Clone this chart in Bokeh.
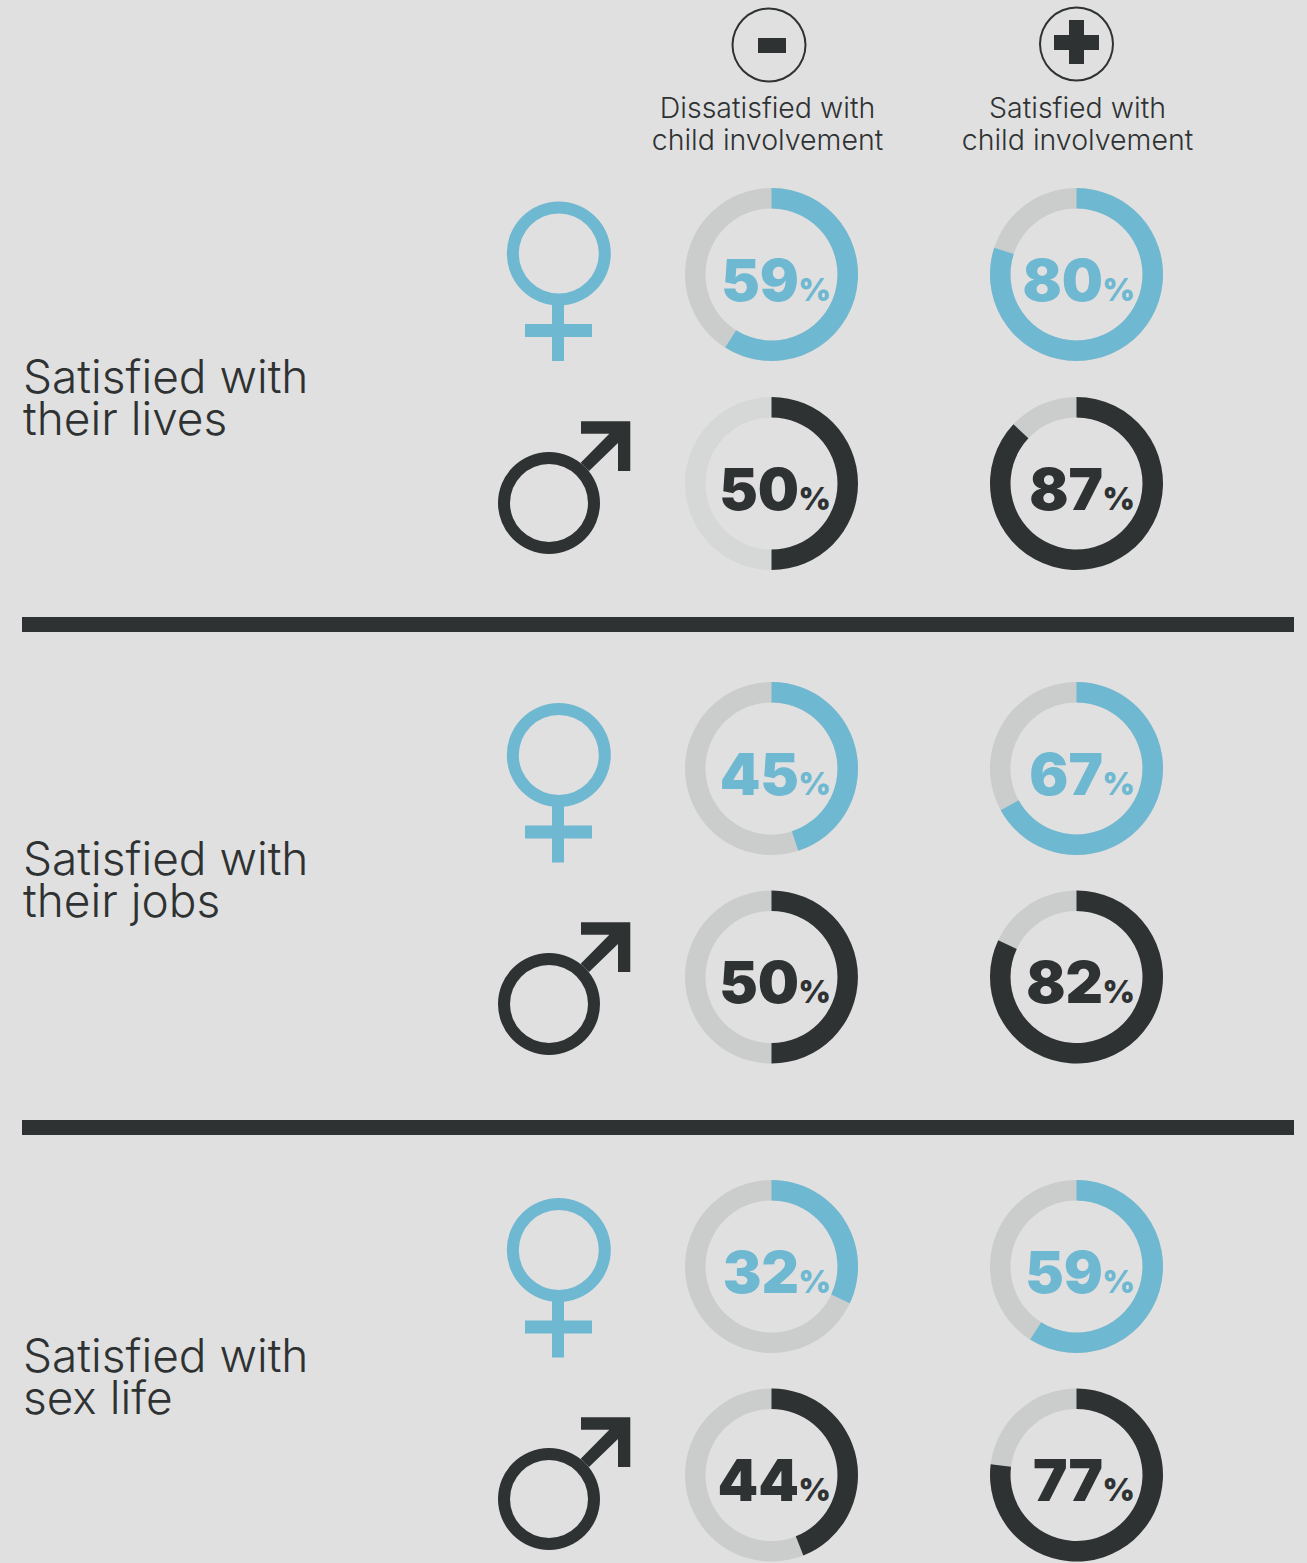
from math import pi
from bokeh.plotting import figure
from bokeh.models import Range1d
from bokeh.embed import file_html
from bokeh.resources import INLINE
from bokeh.core.properties import value

# ---- data ----
header_lines = [["Dissatisfied with", "child involvement"], ["Satisfied with", "child involvement"]]
row_labels = [["Satisfied with", "their lives"], ["Satisfied with", "their jobs"], ["Satisfied with", "sex life"]]
female_dissatisfied = [59, 45, 32]
male_dissatisfied = [50, 50, 44]
female_satisfied = [80, 67, 59]
male_satisfied = [87, 82, 77]

# ---- style / layout ----
BG, BLUE, DARK, TRACK, TRACK_LIGHT = "#e0e0e0", "#6fb8d2", "#2f3233", "#cbcdcc", "#d6d7d7"
LIGHT, BOLD = "Inter Light", "Inter Black"
BASE = 0.37  # the text glyph sits this many em below its anchor
col_x = [771.5, 1076.5]
digit_dx = [27.5, 26.5]
pct_dx = [27, 26]
donut_y = [(274.5, 483.5), (768.5, 977), (1266.5, 1475)]
venus_y = [253.5, 755, 1250]
mars_y = [503, 1004, 1499]
label_y = [(393.5, 435.5), (875.5, 917.5), (1372.5, 1414.5)]
rule_y = [(617, 632), (1120, 1135)]

p = figure(width=1307, height=1563, x_range=Range1d(0.5, 1307.5), y_range=Range1d(1563.5, 0.5),
           output_backend="svg", toolbar_location=None, min_border=0, outline_line_color=None,
           background_fill_color=BG, border_fill_color=BG)
p.axis.visible = False
p.grid.visible = False


def rect(x0, x1, y0, y1, color):
    p.quad(left=[x0], right=[x1], top=[y0], bottom=[y1], fill_color=color, line_color=None)


def label(x, y, txt, size, color, font, align="left", style="normal"):
    p.text(x=[x], y=[y - BASE * size], text=[txt], text_font=value(font), text_font_size=f"{size}px",
           text_font_style=style, text_color=color, text_align=align, text_baseline="alphabetic")


def donut(c, cy, v, color, track=TRACK):
    cx = col_x[c]
    end = pi / 2 - 2 * pi * v / 100
    p.annular_wedge(x=[cx], y=[cy], inner_radius=66, outer_radius=86.5,
                    inner_radius_units="screen", outer_radius_units="screen",
                    start_angle=0, end_angle=2 * pi - 1e-4, fill_color=track, line_color=None)
    p.annular_wedge(x=[cx], y=[cy], inner_radius=66, outer_radius=86.5,
                    inner_radius_units="screen", outer_radius_units="screen",
                    start_angle=pi / 2, end_angle=end, direction="clock",
                    fill_color=color, line_color=None)
    label(cx + digit_dx[c], cy + 26.5, str(v), 58, color, BOLD, "right")
    label(cx + pct_dx[c], cy + 26, "%", 31, color, BOLD, "left")


def ring(cx, cy, r_out, r_in, color):
    p.annulus(x=[cx], y=[cy], inner_radius=r_in, outer_radius=r_out,
              inner_radius_units="screen", outer_radius_units="screen",
              fill_color=color, line_color=None)


def venus(cy):
    ring(558.8, cy, 52, 40, BLUE)
    rect(552, 564, cy + 51, cy + 107.5, BLUE)
    rect(525, 592, cy + 70.5, cy + 83.5, BLUE)


def mars(cy):
    cx = 549
    ring(cx, cy, 51, 39, DARK)
    p.patch(x=[cx + 32, cx + 81.3, cx + 81.3, cx + 69, cx + 69, cx + 40, cx + 31.7, cx + 60.3, cx + 32],
            y=[cy - 81.7, cy - 81.7, cy - 32, cy - 32, cy - 60, cy - 32, cy - 40.3, cy - 69.3, cy - 69.3],
            fill_color=DARK, line_color=None)


# header icons
ring(769, 45, 37.5, 35.5, DARK)
ring(1076.5, 44, 37.5, 35.5, DARK)
rect(758, 786, 38, 53, DARK)
rect(1069, 1084, 20, 64, DARK)
rect(1054, 1099, 35, 50, DARK)

for x, lines in zip([767.5, 1077.5], header_lines):
    label(x, 118, lines[0], 28.5, DARK, LIGHT, "center")
    label(x, 150, lines[1], 28.5, DARK, LIGHT, "center")

for y0, y1 in rule_y:
    rect(22, 1294, y0, y1, DARK)

for i, lines in enumerate(row_labels):
    label(23, label_y[i][0], lines[0], 46, DARK, LIGHT)
    label(23, label_y[i][1], lines[1], 46, DARK, LIGHT)
    venus(venus_y[i])
    mars(mars_y[i])
    donut(0, donut_y[i][0], female_dissatisfied[i], BLUE)
    donut(0, donut_y[i][1], male_dissatisfied[i], DARK, TRACK_LIGHT if i == 0 else TRACK)
    donut(1, donut_y[i][0], female_satisfied[i], BLUE)
    donut(1, donut_y[i][1], male_satisfied[i], DARK)

html = file_html(p, INLINE)
html = html.replace("</head>", f"<style>html,body{{background:{BG};}}</style></head>", 1)
open("out.html", "w").write(html)
